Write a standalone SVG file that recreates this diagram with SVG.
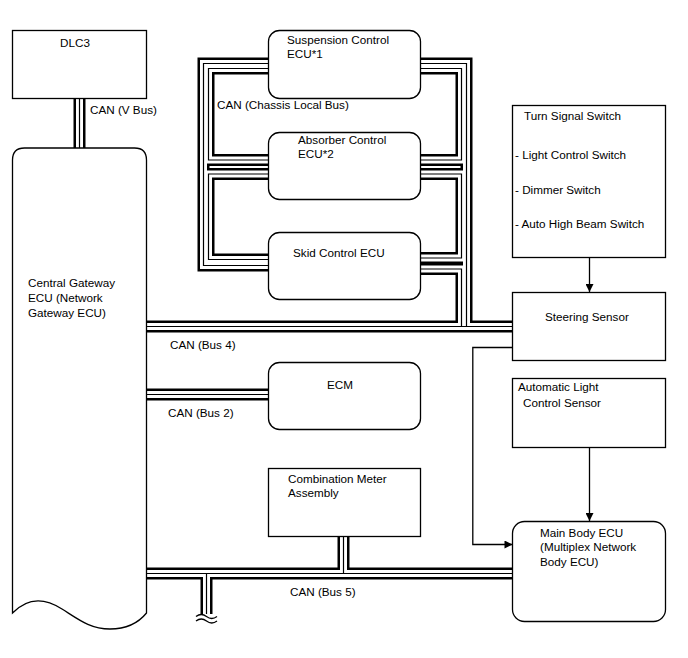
<svg xmlns="http://www.w3.org/2000/svg" xmlns:xlink="http://www.w3.org/1999/xlink" width="688" height="658" viewBox="0 0 688 658">
<style>
  text{font-family:"Liberation Sans",Arial,sans-serif;font-size:11.7px;fill:#000}
  .box{fill:#fff;stroke:#000;stroke-width:1.3}
  .bk{fill:none;stroke:#000;stroke-width:12;stroke-linejoin:miter}
  .wh{fill:none;stroke:#fff;stroke-width:7;stroke-linejoin:miter}
  .th{fill:none;stroke:#000;stroke-width:1.2;stroke-linejoin:miter}
  .ln{fill:none;stroke:#000;stroke-width:1.3}
</style>
<defs>
  <marker id="arr" viewBox="0 0 10 10" refX="10" refY="5" markerWidth="9" markerHeight="8" markerUnits="userSpaceOnUse" orient="auto">
    <path d="M0,0 L10,5 L0,10 z" fill="#000"/>
  </marker>
  <path id="vbus" d="M79.5,98 V148"/>
  <path id="chA" d="M268,63.5 H203.5 V265.5 H268"/>
  <path id="chB" d="M268,68.5 H208.5 V160 H268"/>
  <path id="chC" d="M268,174 H208.5 V259.5 H268"/>
  <path id="rA" d="M421,63.5 H466.5 V326.5"/>
  <path id="rB" d="M421,68.5 H461.5 V160 H421"/>
  <path id="rC" d="M421,174 H461.5 V258 H421"/>
  <path id="rG" d="M421,269 H461.5 V326.5"/>
  <path id="bus4" d="M146,326.5 H513"/>
  <path id="bus2" d="M146,394.5 H268"/>
  <path id="bus5" d="M146,573.5 H513"/>
  <path id="cmv" d="M343.5,537 V573.5"/>
  <path id="b5d" d="M206.5,573.5 V614"/>
</defs>

<g id="connectors">
  <g class="bk">
    <use xlink:href="#vbus"/><use xlink:href="#chA"/><use xlink:href="#chB"/><use xlink:href="#chC"/>
    <use xlink:href="#rA"/><use xlink:href="#rB"/><use xlink:href="#rC"/><use xlink:href="#rG"/>
    <use xlink:href="#bus4"/><use xlink:href="#bus2"/><use xlink:href="#bus5"/><use xlink:href="#cmv"/><use xlink:href="#b5d"/>
  </g>
  <g class="wh">
    <use xlink:href="#vbus"/><use xlink:href="#chA"/><use xlink:href="#chB"/><use xlink:href="#chC"/>
    <use xlink:href="#rA"/><use xlink:href="#rB"/><use xlink:href="#rC"/><use xlink:href="#rG"/>
    <use xlink:href="#bus4"/><use xlink:href="#bus2"/><use xlink:href="#bus5"/><use xlink:href="#cmv"/><use xlink:href="#b5d"/>
  </g>
  <g class="th">
    <use xlink:href="#vbus"/><use xlink:href="#chA"/><use xlink:href="#chB"/><use xlink:href="#chC"/>
    <use xlink:href="#rA"/><use xlink:href="#rB"/><use xlink:href="#rC"/><use xlink:href="#rG"/>
    <use xlink:href="#bus4"/><use xlink:href="#bus2"/><use xlink:href="#bus5"/><use xlink:href="#cmv"/><use xlink:href="#b5d"/>
  </g>
  <path class="ln" d="M196,616.5 q5.25,-4 10.5,0 t10.5,0 M196,621 q5.25,-4 10.5,0 t10.5,0"/>
  <path class="ln" d="M589.5,258 V292" marker-end="url(#arr)"/>
  <path class="ln" d="M589.5,448 V521" marker-end="url(#arr)"/>
  <path class="ln" d="M513,347.5 H472.8 V544.5 H512.5" marker-end="url(#arr)"/>
  <text x="90" y="114">CAN (V Bus)</text>
  <text x="217" y="109">CAN (Chassis Local Bus)</text>
  <text x="170" y="349">CAN (Bus 4)</text>
  <text x="168" y="417">CAN (Bus 2)</text>
  <text x="290" y="596">CAN (Bus 5)</text>
</g>

<g id="dlc3">
  <rect class="box" x="12.5" y="30.5" width="134" height="68"/>
  <text x="60" y="47">DLC3</text>
</g>
<g id="gateway">
  <path class="box" d="M12.5,613 V160 Q12.5,148 24.5,148 H134.5 Q146.5,148 146.5,160 V613 C140,621 128,629 110,629 C90,629 78,619 62,609 C45,598 28,597 12.5,613 Z"/>
  <text x="28" y="287">Central Gateway</text>
  <text x="28" y="302">ECU (Network</text>
  <text x="28" y="317">Gateway ECU)</text>
</g>
<g id="suspension">
  <rect class="box" x="268.5" y="30.5" width="152" height="68" rx="11"/>
  <text x="287" y="44">Suspension Control</text>
  <text x="287" y="58">ECU*1</text>
</g>
<g id="absorber">
  <rect class="box" x="268.5" y="132.5" width="152" height="67" rx="11"/>
  <text x="298" y="144">Absorber Control</text>
  <text x="298" y="158">ECU*2</text>
</g>
<g id="skid">
  <rect class="box" x="268.5" y="232.5" width="152" height="67" rx="11"/>
  <text x="293" y="257">Skid Control ECU</text>
</g>
<g id="ecm">
  <rect class="box" x="268.5" y="362.5" width="152" height="67" rx="11"/>
  <text x="327" y="389">ECM</text>
</g>
<g id="combination">
  <rect class="box" x="268.5" y="468.5" width="152" height="68"/>
  <text x="288" y="483">Combination Meter</text>
  <text x="288" y="497">Assembly</text>
</g>
<g id="turnsignal">
  <rect class="box" x="512.5" y="105.5" width="153" height="152"/>
  <text x="524" y="120">Turn Signal Switch</text>
  <text x="515" y="159">- Light Control Switch</text>
  <text x="515" y="194">- Dimmer Switch</text>
  <text x="515" y="228">- Auto High Beam Switch</text>
</g>
<g id="steering">
  <rect class="box" x="512.5" y="292.5" width="153" height="68"/>
  <text x="545" y="321">Steering Sensor</text>
</g>
<g id="autolight">
  <rect class="box" x="512.5" y="378.5" width="153" height="69"/>
  <text x="518" y="391">Automatic Light</text>
  <text x="523" y="407">Control Sensor</text>
</g>
<g id="mainbody">
  <rect class="box" x="512.5" y="521.5" width="153" height="100" rx="12"/>
  <text x="540" y="537">Main Body ECU</text>
  <text x="540" y="551">(Multiplex Network</text>
  <text x="540" y="566">Body ECU)</text>
</g>
</svg>
